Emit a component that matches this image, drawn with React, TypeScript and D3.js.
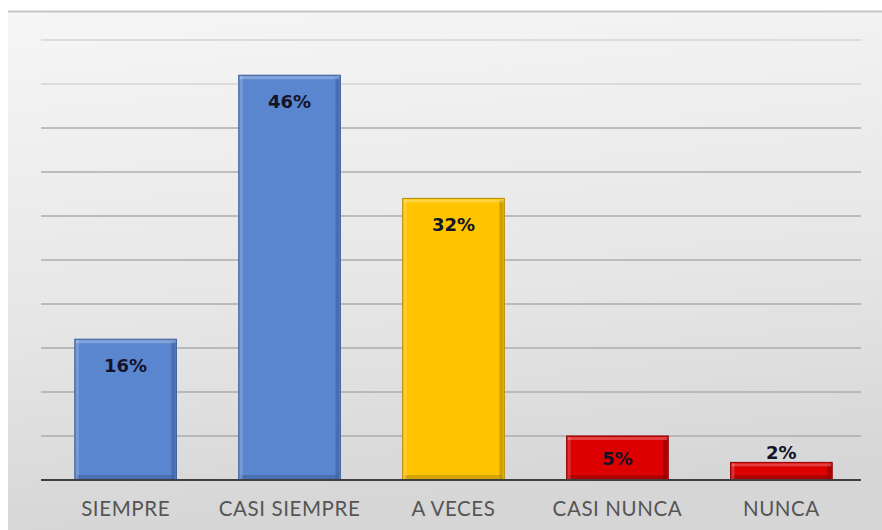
import { useEffect, useRef } from "react";
import * as d3 from "d3";

const categories = ["SIEMPRE", "CASI SIEMPRE", "A VECES", "CASI NUNCA", "NUNCA"];
const values = [16, 46, 32, 5, 2];
const barColors = ["#5a86cf", "#5a86cf", "#ffc400", "#dc0000", "#dc0000"];
const edgeColors = ["#3c5f9c", "#3c5f9c", "#b38a00", "#8e0000", "#8e0000"];
const tickValues = [0, 5, 10, 15, 20, 25, 30, 35, 40, 45, 50];

export default function App() {
  const svgRef = useRef<SVGSVGElement | null>(null);

  useEffect(() => {
    if (!svgRef.current) return;
    const svg = d3.select(svgRef.current);
    svg.selectAll("*").remove();
    const width = 882;
    const height = 530;
    const plot = { left: 41, right: 861, top: 40, bottom: 480 };

    const defs = svg.append("defs");
    const bg = defs
      .append("linearGradient")
      .attr("id", "bg")
      .attr("x1", 0)
      .attr("y1", 0)
      .attr("x2", 0.15)
      .attr("y2", 1);
    bg.append("stop").attr("offset", "0%").attr("stop-color", "#f6f6f6");
    bg.append("stop").attr("offset", "60%").attr("stop-color", "#e6e6e6");
    bg.append("stop").attr("offset", "100%").attr("stop-color", "#d6d6d6");

    // chart area background
    svg
      .append("rect")
      .attr("x", 8)
      .attr("y", 11)
      .attr("width", width - 8)
      .attr("height", height - 11)
      .attr("fill", "url(#bg)");
    svg
      .append("line")
      .attr("x1", 8)
      .attr("x2", width)
      .attr("y1", 11.5)
      .attr("y2", 11.5)
      .attr("stroke", "#c4c4c4")
      .attr("stroke-width", 2);

    const x = d3
      .scaleBand()
      .domain(categories)
      .range([42, 865])
      .paddingInner(0.38)
      .paddingOuter(0.2);
    const y = d3.scaleLinear().domain([0, 50]).range([plot.bottom, plot.top]);

    // gridlines
    svg
      .append("g")
      .selectAll("line")
      .data(tickValues.filter((t) => t > 0))
      .enter()
      .append("line")
      .attr("x1", plot.left)
      .attr("x2", plot.right)
      .attr("y1", (d) => y(d))
      .attr("y2", (d) => y(d))
      .attr("stroke", (d) => (d >= 45 ? "#d4d4d4" : "#adadad"))
      .attr("stroke-width", 1.5);

    const bars = svg
      .append("g")
      .selectAll("g")
      .data(values)
      .enter()
      .append("g");

    // bar body
    bars
      .append("rect")
      .attr("x", (_, i) => x(categories[i])!)
      .attr("y", (d) => y(d))
      .attr("width", x.bandwidth())
      .attr("height", (d) => plot.bottom - y(d))
      .attr("fill", (_, i) => barColors[i])
      .attr("stroke", (_, i) => edgeColors[i])
      .attr("stroke-width", 1);
    // bevel: right and bottom dark edge
    bars
      .append("rect")
      .attr("x", (_, i) => x(categories[i])! + x.bandwidth() - 5)
      .attr("y", (d) => y(d) + 2)
      .attr("width", 4)
      .attr("height", (d) => Math.max(0, plot.bottom - y(d) - 3))
      .attr("fill", (_, i) => edgeColors[i])
      .attr("opacity", 0.6);
    bars
      .append("rect")
      .attr("x", (_, i) => x(categories[i])! + 2)
      .attr("y", plot.bottom - 5)
      .attr("width", x.bandwidth() - 4)
      .attr("height", 4)
      .attr("fill", (_, i) => edgeColors[i])
      .attr("opacity", 0.55);
    // bevel: top light edge
    bars
      .append("rect")
      .attr("x", (_, i) => x(categories[i])! + 1)
      .attr("y", (d) => y(d) + 1)
      .attr("width", x.bandwidth() - 2)
      .attr("height", 3)
      .attr("fill", "#ffffff")
      .attr("opacity", 0.25);
    bars
      .append("rect")
      .attr("x", (_, i) => x(categories[i])! + 1)
      .attr("y", (d) => y(d) + 1)
      .attr("width", 3)
      .attr("height", (d) => Math.max(0, plot.bottom - y(d) - 2))
      .attr("fill", "#ffffff")
      .attr("opacity", 0.18);

    // value labels
    bars
      .append("text")
      .attr("x", (_, i) => x(categories[i])! + x.bandwidth() / 2)
      .attr("y", (d) => {
        const h = plot.bottom - y(d);
        if (h < 25) return y(d) - 3;
        return y(d) + Math.min(33, h / 2 + 7);
      })
      .attr("text-anchor", "middle")
      .attr("font-family", "DejaVu Sans, Verdana, sans-serif")
      .attr("font-weight", "bold")
      .attr("font-size", 18)
      .attr("fill", "#141428")
      .text((d) => `${d}%`);

    // baseline
    svg
      .append("line")
      .attr("x1", plot.left)
      .attr("x2", plot.right)
      .attr("y1", plot.bottom)
      .attr("y2", plot.bottom)
      .attr("stroke", "#3f3f3f")
      .attr("stroke-width", 2);

    // category labels
    svg
      .append("g")
      .selectAll("text")
      .data(categories)
      .enter()
      .append("text")
      .attr("x", (d) => x(d)! + x.bandwidth() / 2)
      .attr("y", 516)
      .attr("text-anchor", "middle")
      .attr("font-family", "Lato, Carlito, sans-serif")
      .attr("font-size", 20.5)
      .attr("letter-spacing", 0.6)
      .attr("fill", "#555555")
      .text((d) => d);
  }, []);

  return (
    <svg
      ref={svgRef}
      width={882}
      height={530}
      style={{ position: "absolute", left: 0, top: 0, background: "#ffffff" }}
    />
  );
}
